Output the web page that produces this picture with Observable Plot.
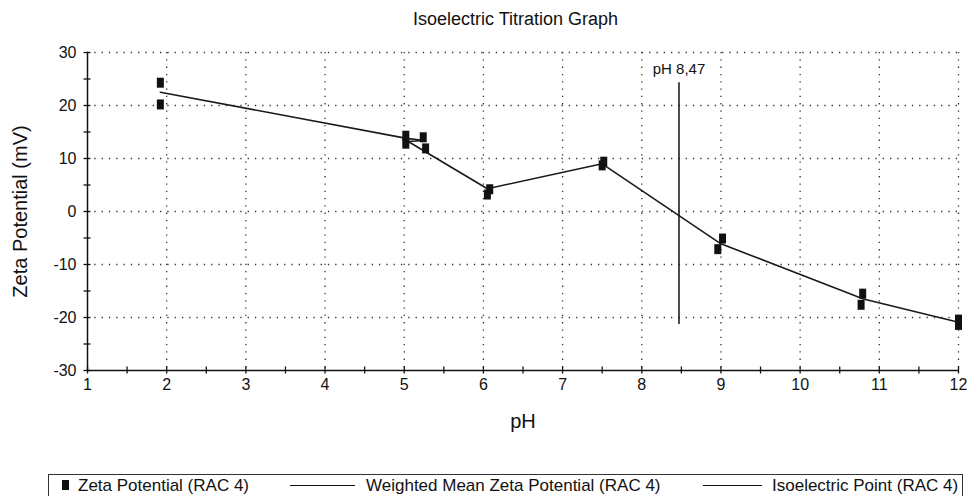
<!DOCTYPE html>
<html>
<head>
<meta charset="utf-8">
<script src="https://cdn.jsdelivr.net/npm/d3@7"></script>
<script src="https://cdn.jsdelivr.net/npm/@observablehq/plot@0.6"></script>
<style>
  html, body { margin: 0; padding: 0; background: #fff; }
  body { width: 968px; height: 496px; position: relative; overflow: hidden; font-family: "Liberation Sans", Arial, sans-serif; color: #111; }
  #title { position: absolute; left: 80px; width: 871px; top: 9px; text-align: center; font-size: 18px; }
  #chart { position: absolute; left: 0; top: 40px; }
  #legend { position: absolute; left: 48px; top: 474px; width: 915px; height: 30px; border: 1px solid #333; box-sizing: border-box; }
  .lg { position: absolute; font-size: 17px; top: 476px; white-space: nowrap; }
  .lgline { position: absolute; height: 0; border-top: 1.5px solid #111; top: 485px; }
  .lgmark { position: absolute; width: 7px; height: 10px; background: #111; top: 480px; }
</style>
</head>
<body>
<div id="title">Isoelectric Titration Graph</div>
<div id="chart"></div>
<div id="legend"></div>
<div class="lgmark" style="left:62px"></div>
<div class="lg" style="left:78px">Zeta Potential (RAC 4)</div>
<div class="lgline" style="left:290px;width:65px"></div>
<div class="lg" style="left:366px">Weighted Mean Zeta Potential (RAC 4)</div>
<div class="lgline" style="left:703px;width:59px"></div>
<div class="lg" style="left:772px">Isoelectric Point (RAC 4)</div>
<script>
// Measured zeta potential points
const markerPH   = [1.92, 1.92, 5.02, 5.02, 5.24, 5.27, 6.08, 6.05, 7.52, 7.50, 9.02, 8.96, 10.79, 10.77, 12.00, 12.00];
const markerZeta = [24.3, 20.2, 14.3, 12.8, 14.0, 11.9, 4.2, 3.2, 9.4, 8.7, -5.1, -7.1, -15.5, -17.6, -20.4, -21.4];

// Weighted mean line
const meanPH   = [1.92, 5.03, 5.25, 5.05, 6.05, 7.50, 9.00, 10.80, 12.00];
const meanZeta = [22.5, 13.8, 13.4, 13.2, 4.3, 9.0, -6.1, -16.5, -20.9];

// Isoelectric point
const isoPH = 8.47;
const isoZetaRange = [-21.3, 24.3];
const isoLabel = "pH 8,47";
const isoLabelZeta = 26.8;

// Axes
const xTicks = [1, 2, 3, 4, 5, 6, 7, 8, 9, 10, 11, 12];
const xMinorTicks = [1, 1.5, 2, 2.5, 3, 3.5, 4, 4.5, 5, 5.5, 6, 6.5, 7, 7.5, 8, 8.5, 9, 9.5, 10, 10.5, 11, 11.5, 12];
const yTicks = [-30, -20, -10, 0, 10, 20, 30];
const yMinorTicks = [-30, -25, -20, -15, -10, -5, 0, 5, 10, 15, 20, 25, 30];
const xGrid = [2, 3, 4, 5, 6, 7, 8, 9, 10, 11, 12];
const yGrid = [-20, -10, 0, 10, 20, 30];
const xLabel = "pH";
const yLabel = "Zeta Potential (mV)";

const markers = markerPH.map((x, i) => ({x, y: markerZeta[i]}));
const mean = meanPH.map((x, i) => ({x, y: meanZeta[i]}));

const rectSymbol = { draw(ctx) { ctx.rect(-3.5, -5, 7, 10); } };
const dotted = {stroke: "#333", strokeOpacity: 1, strokeWidth: 1.3, strokeDasharray: "1.3,6"};
const plain = d => String(d);

const chart = Plot.plot({
  width: 968,
  height: 434,
  marginTop: 12,
  marginBottom: 104,
  marginLeft: 87,
  marginRight: 10,
  x: {domain: [1, 12]},
  y: {domain: [-30, 30]},
  style: {fontFamily: "Liberation Sans, Arial, sans-serif", fontSize: "16px", color: "#111", background: "white"},
  marks: [
    Plot.gridX(xGrid, dotted),
    Plot.gridY(yGrid, dotted),
    Plot.ruleY([-30], {stroke: "#111", strokeWidth: 1.5}),
    Plot.ruleX([1], {stroke: "#111", strokeWidth: 1.5}),
    Plot.axisX(xMinorTicks, {tickSize: 7, dy: -3.5, tickFormat: () => "", label: null, stroke: "#111", strokeWidth: 1.3}),
    Plot.axisX(xTicks, {tickSize: 0, tickPadding: 8, fontSize: 16, tickFormat: plain, label: null}),
    Plot.axisY(yMinorTicks, {tickSize: 7, dx: 3.5, tickFormat: () => "", label: null, stroke: "#111", strokeWidth: 1.3}),
    Plot.axisY(yTicks, {tickSize: 0, tickPadding: 11, fontSize: 16, tickFormat: plain, label: null}),
    Plot.text([xLabel], {frameAnchor: "bottom", dy: 57, fontSize: 20, fill: "#111"}),
    Plot.text([yLabel], {frameAnchor: "left", dx: -67, rotate: -90, textAnchor: "middle", fontSize: 20, fill: "#111"}),
    Plot.line(mean, {x: "x", y: "y", stroke: "#1a1a1a", strokeWidth: 1.6}),
    Plot.ruleX([isoPH], {y1: isoZetaRange[0], y2: isoZetaRange[1], stroke: "#111", strokeWidth: 1.5}),
    Plot.text([isoLabel], {x: isoPH, y: isoLabelZeta, fontSize: 15, fill: "#111"}),
    Plot.dot(markers, {x: "x", y: "y", symbol: rectSymbol, fill: "#111", stroke: "none"})
  ]
});
document.getElementById("chart").appendChild(chart);
</script>
</body>
</html>
